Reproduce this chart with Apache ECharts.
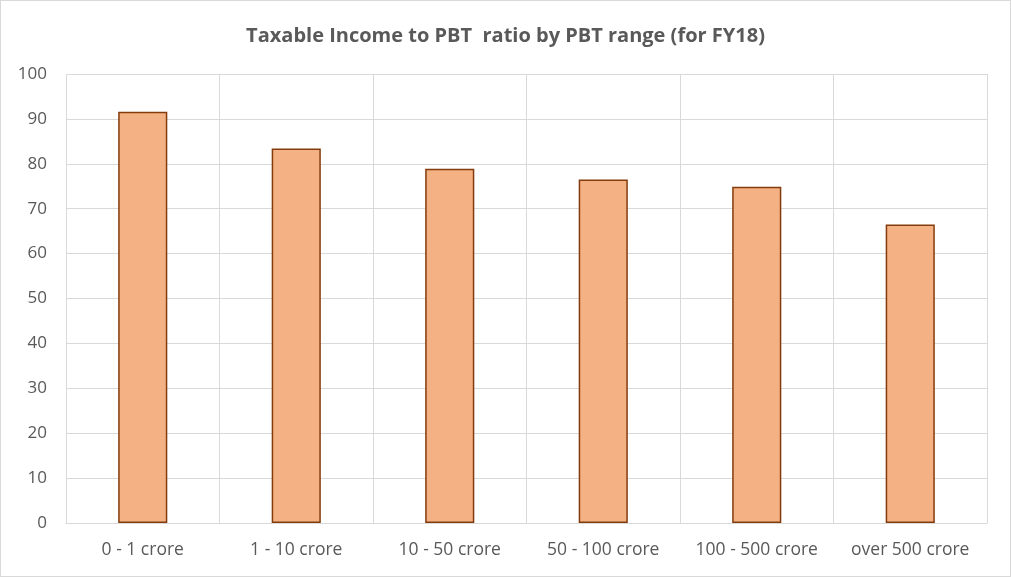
<!DOCTYPE html>
<html><head><meta charset="utf-8">
<script src="https://cdn.jsdelivr.net/npm/echarts@6/dist/echarts.min.js"></script>
<style>
html,body{margin:0;padding:0;background:#fff;}
#c{width:1011px;height:577px;box-sizing:border-box;border:1px solid #d9d9d9;}
</style></head>
<body><div id="c"></div>
<script>
var categories = ['0 - 1 crore','1 - 10 crore','10 - 50 crore','50 - 100 crore','100 - 500 crore','over 500 crore'];
var ratios = [91.6, 83.4, 78.9, 76.5, 74.9, 66.5];
var yTicks = {min:0, max:100, interval:10};
var titleText = 'Taxable Income to PBT  ratio by PBT range (for FY18)';

var chart = echarts.init(document.getElementById('c'), null, {renderer:'canvas'});
var font = '"Open Sans", "Liberation Sans", sans-serif';
chart.setOption({
  animation:false,
  textStyle:{fontFamily:font},
  title:{text:titleText, left:'center', top:20,
    textStyle:{fontSize:20, fontWeight:'bold', color:'#595959', fontFamily:font}},
  grid:{left:65, right:23, top:73, bottom:53, containLabel:false},
  xAxis:{type:'category', data:categories, boundaryGap:true,
    axisLine:{show:true, lineStyle:{color:'#d9d9d9', width:1}},
    axisTick:{show:false, interval:0},
    splitLine:{show:true, interval:0, lineStyle:{color:'#d9d9d9', width:1}},
    axisLabel:{interval:0, hideOverlap:false, color:'#595959', fontSize:17.5, margin:18, fontFamily:font}},
  yAxis:{type:'value', min:yTicks.min, max:yTicks.max, interval:yTicks.interval,
    axisLine:{show:false}, axisTick:{show:false},
    splitLine:{lineStyle:{color:'#d9d9d9', width:1}},
    axisLabel:{color:'#595959', fontSize:17, margin:19, fontFamily:font}},
  series:[{type:'bar', data:ratios, barWidth:'32%',
    itemStyle:{color:'#F4B183', borderColor:'#843C0C', borderWidth:1.5}}]
});
</script></body></html>
